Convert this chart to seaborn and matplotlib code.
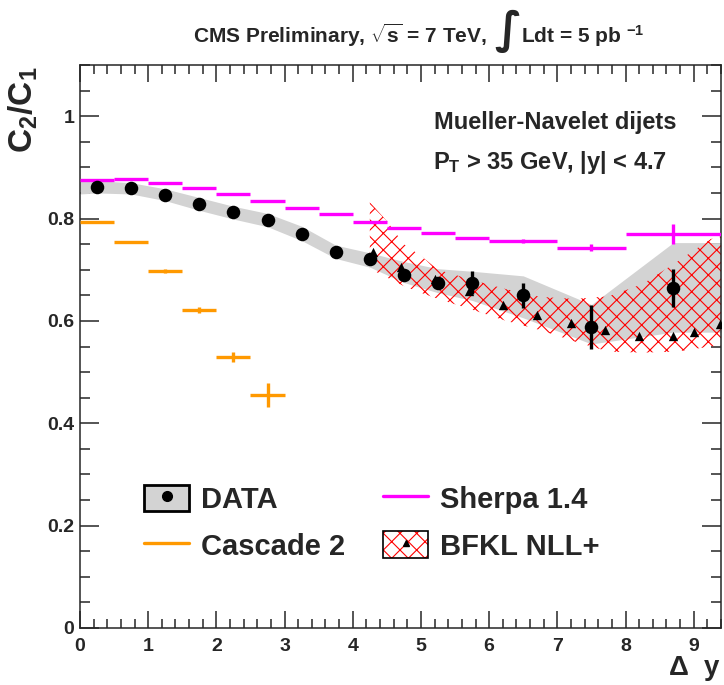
import numpy as np
import matplotlib
matplotlib.use("Agg")
import matplotlib.pyplot as plt
import seaborn as sns
from matplotlib import font_manager
from matplotlib.patches import Patch
from matplotlib.lines import Line2D
from matplotlib.ticker import MultipleLocator, FuncFormatter
from matplotlib.offsetbox import TextArea, HPacker, AnchoredOffsetbox

# -----------------------------------
# DATA
# -----------------------------------

data_x = [0.25, 0.75, 1.25, 1.75, 2.25, 2.75, 3.25, 3.75, 4.25, 4.75, 5.25, 5.75, 6.5, 7.5, 8.7]
data_y = [0.862, 0.859, 0.846, 0.829, 0.812, 0.798, 0.770, 0.735, 0.720, 0.690, 0.674, 0.675, 0.650, 0.588, 0.665]
data_err = [0.003, 0.003, 0.003, 0.003, 0.004, 0.004, 0.005, 0.006, 0.008, 0.010, 0.012, 0.023, 0.025, 0.043, 0.037]

# systematic band of the data
syst_x = [0.0, 0.25, 0.75, 1.25, 1.75, 2.25, 2.75, 3.25, 3.75, 4.25, 4.75, 5.25, 5.75, 6.5, 7.5, 8.7, 9.4]
syst_hi = [0.875, 0.874, 0.870, 0.858, 0.841, 0.824, 0.810, 0.785, 0.748, 0.733, 0.716, 0.702, 0.697, 0.688, 0.632, 0.753, 0.753]
syst_lo = [0.848, 0.850, 0.848, 0.835, 0.816, 0.799, 0.784, 0.757, 0.722, 0.705, 0.675, 0.655, 0.640, 0.606, 0.555, 0.578, 0.578]

# Sherpa 1.4
sherpa_x = [0.25, 0.75, 1.25, 1.75, 2.25, 2.75, 3.25, 3.75, 4.25, 4.75, 5.25, 5.75, 6.5, 7.5, 8.7]
sherpa_w = [0.25, 0.25, 0.25, 0.25, 0.25, 0.25, 0.25, 0.25, 0.25, 0.25, 0.25, 0.25, 0.5, 0.5, 0.7]
sherpa_y = [0.875, 0.878, 0.870, 0.860, 0.848, 0.835, 0.821, 0.809, 0.794, 0.782, 0.772, 0.762, 0.756, 0.743, 0.770]
sherpa_err = [0.001, 0.001, 0.001, 0.001, 0.001, 0.001, 0.001, 0.001, 0.002, 0.002, 0.002, 0.002, 0.004, 0.007, 0.019]

# Cascade 2
cascade_x = [0.25, 0.75, 1.25, 1.75, 2.25, 2.75]
cascade_w = [0.25, 0.25, 0.25, 0.25, 0.25, 0.25]
cascade_y = [0.794, 0.754, 0.697, 0.621, 0.529, 0.455]
cascade_err = [0.001, 0.001, 0.004, 0.006, 0.010, 0.024]

# BFKL NLL+
bfkl_x = [4.3, 4.7, 5.2, 5.7, 6.2, 6.7, 7.2, 7.7, 8.2, 8.7, 9.0, 9.38]
bfkl_y = [0.735, 0.705, 0.682, 0.659, 0.631, 0.612, 0.595, 0.582, 0.571, 0.570, 0.578, 0.594]
bfkl_band_x = [4.25, 4.5, 4.75, 5.0, 5.25, 5.75, 6.25, 6.75, 7.25, 7.75, 8.25, 8.75, 9.25, 9.4]
bfkl_hi = [0.832, 0.795, 0.750, 0.727, 0.700, 0.680, 0.662, 0.647, 0.643, 0.648, 0.672, 0.715, 0.760, 0.765]
bfkl_lo = [0.702, 0.685, 0.668, 0.655, 0.643, 0.622, 0.600, 0.582, 0.560, 0.540, 0.538, 0.540, 0.550, 0.552]

# -----------------------------------
# STYLE
# -----------------------------------

sns.set_style("ticks")
plt.rcParams['font.family'] = ['Liberation Sans', 'DejaVu Sans']
plt.rcParams['font.weight'] = 'bold'
plt.rcParams['axes.labelweight'] = 'bold'
plt.rcParams['mathtext.fontset'] = 'custom'
plt.rcParams['mathtext.rm'] = 'Liberation Sans'
plt.rcParams['mathtext.it'] = 'Liberation Sans:bold'
plt.rcParams['mathtext.bf'] = 'Liberation Sans:bold'
plt.rcParams['mathtext.sf'] = 'Liberation Sans:bold'
plt.rcParams['hatch.linewidth'] = 0.8

installed = {f.name for f in font_manager.fontManager.ttflist}
if 'Liberation Sans Narrow' in installed:
    title_family, title_size = ['Liberation Sans Narrow', 'DejaVu Sans'], 18
else:
    title_family, title_size = ['Liberation Sans', 'DejaVu Sans'], 15

ORANGE = '#ff9900'
MAGENTA = '#ff00ff'
GRAY = '#d3d3d3'

fig = plt.figure(figsize=(7.24, 6.85), dpi=100)
ax = fig.add_axes([80 / 724, 57 / 685, 641 / 724, 563 / 685])

# -----------------------------------
# PLOT
# -----------------------------------

ax.fill_between(syst_x, syst_lo, syst_hi, color=GRAY, lw=0, zorder=1)
ax.fill_between(bfkl_band_x, bfkl_lo, bfkl_hi, facecolor='none', edgecolor='red',
                hatch='xx', lw=0, zorder=2)

ax.errorbar(cascade_x, cascade_y, xerr=cascade_w, yerr=cascade_err, fmt='none',
            ecolor=ORANGE, elinewidth=2.4, capsize=0, zorder=3)
ax.errorbar(sherpa_x, sherpa_y, xerr=sherpa_w, yerr=sherpa_err, fmt='none',
            ecolor=MAGENTA, elinewidth=2.4, capsize=0, zorder=3)

sns.scatterplot(x=bfkl_x, y=bfkl_y, marker='^', s=45, color='black', linewidth=0, ax=ax, zorder=4)
ax.errorbar(data_x, data_y, yerr=data_err, fmt='none', ecolor='black', elinewidth=2.4, capsize=0, zorder=5)
sns.scatterplot(x=data_x, y=data_y, marker='o', s=95, color='black', linewidth=0, ax=ax, zorder=6)

# -----------------------------------
# AXES
# -----------------------------------

ax.set_xlim(0, 9.4)
ax.set_ylim(0, 1.1)
ax.xaxis.set_major_locator(MultipleLocator(1))
ax.xaxis.set_minor_locator(MultipleLocator(0.2))
ax.yaxis.set_major_locator(MultipleLocator(0.2))
ax.yaxis.set_minor_locator(MultipleLocator(0.05))
ax.yaxis.set_major_formatter(FuncFormatter(lambda v, _: f"{v:g}"))
ax.tick_params(which='both', direction='in', top=True, right=True, width=1.1,
               labelsize=14)
ax.tick_params(axis='x', which='major', length=12.5, pad=7)
ax.tick_params(axis='x', which='minor', length=6.2)
ax.tick_params(axis='y', which='major', length=13.8, pad=4)
ax.tick_params(axis='y', which='minor', length=6.9)
for lab in ax.get_xticklabels() + ax.get_yticklabels():
    lab.set_fontweight('bold')
for s in ax.spines.values():
    s.set_linewidth(1.1)

ax.set_ylabel(r"C$_\mathbf{2}$/C$_\mathbf{1}$", fontsize=24, loc='top')
ax.yaxis.set_label_coords(-0.062, 0.998)
ax.set_xlabel(r"$\Delta$  y", fontsize=20, loc='right')
ax.xaxis.set_label_coords(1.0, -0.046)

# -----------------------------------
# TEXT
# -----------------------------------

tprops = dict(fontsize=title_size, fontweight='bold', family=title_family)
title_parts = [
    TextArea(r"CMS Preliminary, $\sqrt{s}$ = 7 TeV,  ", textprops=tprops),
    TextArea("∫", textprops=dict(fontsize=32, family='DejaVu Sans')),
    TextArea(r"Ldt = 5 pb $^{\mathbf{-1}}$", textprops=tprops),
]
title_box = HPacker(children=title_parts, align='baseline', pad=0, sep=0)
fig.add_artist(AnchoredOffsetbox(loc='center left', child=title_box, pad=0, borderpad=0,
                                 frameon=False, bbox_to_anchor=(193 / 724, 1 - 31 / 685),
                                 bbox_transform=fig.transFigure))

ax.text(0.931, 0.897, "Mueller-Navelet dijets", transform=ax.transAxes,
        ha='right', va='center', fontsize=17)
ax.text(0.916, 0.826, r"P$_T$ > 35 GeV, |y| < 4.7", transform=ax.transAxes,
        ha='right', va='center', fontsize=17)

# -----------------------------------
# LEGEND
# -----------------------------------

h_data = (Patch(facecolor=GRAY, edgecolor='black', lw=2),
          Line2D([], [], marker='o', color='black', ls='none', ms=7))
h_cascade = Line2D([], [], color=ORANGE, lw=2.4)
h_sherpa = Line2D([], [], color=MAGENTA, lw=2.4)
h_bfkl = (Patch(facecolor='white', edgecolor='red', hatch='xx', lw=0),
          Patch(facecolor='none', edgecolor='black', lw=1.2),
          Line2D([], [], marker='^', color='black', ls='none', ms=5))

ax.legend([h_data, h_cascade, h_sherpa, h_bfkl],
          ["DATA", "Cascade 2", "Sherpa 1.4", "BFKL NLL+"],
          ncol=2, loc='center left', bbox_to_anchor=(0.1, 0.187),
          frameon=False, fontsize=21, borderpad=0, borderaxespad=0,
          handlelength=1.55, handleheight=1.0, handletextpad=0.4,
          columnspacing=1.3, labelspacing=0.6)

fig.savefig("out.png", dpi=100)
